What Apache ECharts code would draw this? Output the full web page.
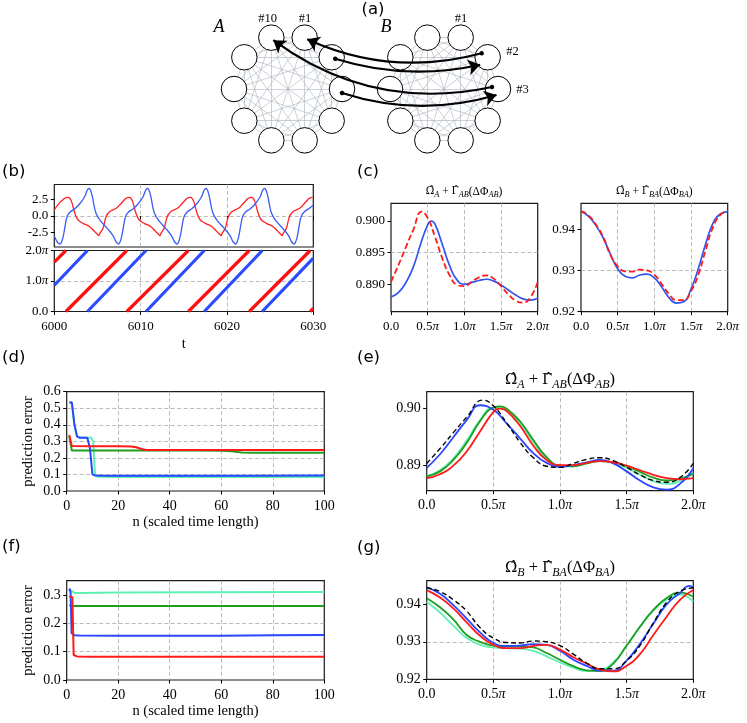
<!DOCTYPE html>
<html><head><meta charset="utf-8">
<script src="https://cdn.jsdelivr.net/npm/echarts@6/dist/echarts.min.js"></script>
<style>html,body{margin:0;padding:0;background:#fff}#c{width:747px;height:723px}</style>
</head><body><div id="c"></div>
<script>
// ================= DATA =================
// (a) network schematic: two rings of 10 oscillators, all-to-all inside each ring
const ringNodes = [1,2,3,4,5,6,7,8,9,10];
const ringCenters = {A: [288, 89], B: [444, 89]};
const ringRadius = 54;
// inter-ring couplings: [fromRing, fromNode, toRing, toNode, startOffset, endOffset, curveness]
const couplings = [
  ['B', 2, 'A', 1,  [-6, -4], [2.5, 1.5], 0.18],
  ['A', 2, 'B', 2,  [3.5, 1.5], [-7.5, 7.5], -0.134],
  ['B', 3, 'A', 10, [-6, -2], [2, 2.5], 0.225],
  ['A', 3, 'B', 3,  [0, 4], [-1.5, 6], -0.153]
];

// (b) time series (t, value) and phases (t, phase in units of pi)
const redSignal = [[6000.0,0.9],[6000.55,1.9],[6001.2,2.65],[6001.4,2.77],[6001.6,2.8],[6001.8,2.65],[6002.0,2.15],[6002.38,0.4],[6002.76,-0.6],[6003.34,-1.1],[6004.1,-1.6],[6004.68,-2.35],[6004.99,-2.75],[6005.14,-2.95],[6005.28,-2.6],[6005.64,-1.85],[6006.0,-0.1],[6006.4,0.65],[6007.18,1.15],[6007.75,1.9],[6008.3,2.65],[6008.48,2.77],[6008.68,2.8],[6008.88,2.65],[6009.08,2.15],[6009.46,0.4],[6009.84,-0.6],[6010.42,-1.1],[6011.18,-1.6],[6011.76,-2.35],[6012.07,-2.75],[6012.22,-2.95],[6012.36,-2.6],[6012.72,-1.85],[6013.08,-0.1],[6013.48,0.65],[6014.26,1.15],[6014.83,1.9],[6015.38,2.65],[6015.56,2.77],[6015.76,2.8],[6015.96,2.65],[6016.16,2.15],[6016.54,0.4],[6016.92,-0.6],[6017.5,-1.1],[6018.26,-1.6],[6018.84,-2.35],[6019.15,-2.75],[6019.3,-2.95],[6019.44,-2.6],[6019.8,-1.85],[6020.16,-0.1],[6020.56,0.65],[6021.34,1.15],[6021.91,1.9],[6022.46,2.65],[6022.64,2.77],[6022.84,2.8],[6023.04,2.65],[6023.24,2.15],[6023.62,0.4],[6024.0,-0.6],[6024.58,-1.1],[6025.34,-1.6],[6025.92,-2.35],[6026.23,-2.75],[6026.38,-2.95],[6026.52,-2.6],[6026.88,-1.85],[6027.24,-0.1],[6027.64,0.65],[6028.42,1.15],[6028.99,1.9],[6029.54,2.65],[6029.72,2.77],[6029.92,2.8],[6030.0,2.78]];
const blueSignal = [[6000.0,-3.0],[6000.3,-3.8],[6000.45,-4.05],[6000.65,-4.2],[6000.81,-4.0],[6001.03,-3.1],[6001.28,-1.3],[6001.48,-0.1],[6001.83,0.6],[6002.38,1.1],[6002.93,1.8],[6003.48,2.8],[6003.81,3.85],[6004.03,4.15],[6004.2,3.85],[6004.41,2.9],[6004.83,0.4],[6005.43,-0.85],[6006.13,-1.85],[6006.78,-2.9],[6007.13,-3.8],[6007.28,-4.05],[6007.42,-4.2],[6007.58,-4.0],[6007.8,-3.1],[6008.05,-1.3],[6008.25,-0.1],[6008.6,0.6],[6009.15,1.1],[6009.7,1.8],[6010.25,2.8],[6010.58,3.85],[6010.8,4.15],[6010.97,3.85],[6011.18,2.9],[6011.6,0.4],[6012.2,-0.85],[6012.9,-1.85],[6013.55,-2.9],[6013.9,-3.8],[6014.05,-4.05],[6014.2,-4.2],[6014.36,-4.0],[6014.58,-3.1],[6014.83,-1.3],[6015.03,-0.1],[6015.38,0.6],[6015.93,1.1],[6016.48,1.8],[6017.03,2.8],[6017.36,3.85],[6017.58,4.15],[6017.75,3.85],[6017.96,2.9],[6018.38,0.4],[6018.98,-0.85],[6019.68,-1.85],[6020.33,-2.9],[6020.68,-3.8],[6020.83,-4.05],[6020.98,-4.2],[6021.14,-4.0],[6021.36,-3.1],[6021.61,-1.3],[6021.81,-0.1],[6022.16,0.6],[6022.71,1.1],[6023.26,1.8],[6023.81,2.8],[6024.14,3.85],[6024.36,4.15],[6024.53,3.85],[6024.74,2.9],[6025.16,0.4],[6025.76,-0.85],[6026.46,-1.85],[6027.11,-2.9],[6027.46,-3.8],[6027.61,-4.05],[6027.76,-4.2],[6027.92,-4.0],[6028.14,-3.1],[6028.39,-1.3],[6028.59,-0.1],[6028.94,0.6],[6029.49,1.1],[6030.0,1.6]];
const redPhase = [[6000,1.62],[6001.34,2],[6001.34,null],[6001.34,0],[6008.4,2],[6008.4,null],[6008.4,0],[6015.53,2],[6015.53,null],[6015.53,0],[6022.58,2],[6022.58,null],[6022.58,0],[6029.64,2],[6029.64,null],[6029.64,0],[6030,0.1]];
const bluePhase = [[6000,0.86],[6003.84,2],[6003.84,null],[6003.84,0],[6010.62,2],[6010.62,null],[6010.62,0],[6017.37,2],[6017.37,null],[6017.37,0],[6024.09,2],[6024.09,null],[6024.09,0],[6030,1.75]];
const signalTicks = [-2.5, 0, 2.5];
const phaseTicks = [0, 1, 2];

// (c) coupling functions (x in units of pi)
const trueA = [[0,0.8904],[0.1,0.8930],[0.2,0.8958],[0.3,0.8985],[0.42,0.9015],[0.5,0.9005],[0.6,0.8975],[0.7,0.8941],[0.8,0.8914],[0.9,0.8899],[1.0,0.8897],[1.1,0.8904],[1.2,0.8911],[1.3,0.8914],[1.4,0.8909],[1.5,0.8897],[1.6,0.8884],[1.7,0.8874],[1.8,0.8871],[1.9,0.8879],[2.0,0.8904]];
const estA = [[0,0.8880],[0.1,0.8887],[0.2,0.8902],[0.3,0.8926],[0.4,0.8962],[0.5,0.8994],[0.55,0.9000],[0.6,0.8995],[0.7,0.8963],[0.8,0.8929],[0.9,0.8907],[1.0,0.8900],[1.1,0.8903],[1.2,0.8906],[1.3,0.8908],[1.4,0.8905],[1.5,0.8899],[1.6,0.8891],[1.7,0.8883],[1.8,0.8877],[1.9,0.8875],[2.0,0.8878]];
const trueB = [[0,0.9444],[0.1,0.9434],[0.2,0.9412],[0.3,0.9382],[0.4,0.9338],[0.5,0.9310],[0.6,0.9298],[0.7,0.9297],[0.8,0.9302],[0.9,0.9300],[1.0,0.9290],[1.1,0.9267],[1.2,0.9243],[1.3,0.9228],[1.4,0.9228],[1.5,0.9250],[1.6,0.9290],[1.7,0.9350],[1.8,0.9405],[1.9,0.9435],[2.0,0.9444]];
const estB = [[0,0.9443],[0.1,0.9432],[0.2,0.9410],[0.3,0.9380],[0.4,0.9340],[0.5,0.9304],[0.6,0.9286],[0.7,0.9282],[0.8,0.9289],[0.9,0.9291],[1.0,0.9282],[1.1,0.9260],[1.2,0.9234],[1.3,0.9221],[1.4,0.9224],[1.5,0.9255],[1.6,0.9305],[1.7,0.9365],[1.8,0.9415],[1.9,0.9437],[2.0,0.9443]];

// (d) prediction error vs n, network A
const dBlue  = [[1,0.534],[2,0.534],[3,0.40],[4,0.33],[5,0.322],[8,0.322],[9,0.26],[10,0.10],[11,0.093],[15,0.092],[40,0.092],[70,0.092],[100,0.093]];
const dCyan  = [[1,0.534],[2,0.534],[3,0.40],[4,0.33],[5,0.323],[9.5,0.322],[10.3,0.30],[11,0.10],[12,0.086],[20,0.085],[60,0.085],[100,0.085]];
const dGreen = [[1,0.33],[2,0.244],[10,0.244],[30,0.244],[50,0.244],[60,0.243],[64,0.240],[68,0.233],[72,0.231],[80,0.231],[100,0.231]];
const dRed   = [[1,0.338],[2,0.272],[10,0.270],[20,0.270],[25,0.269],[27,0.264],[29,0.254],[31,0.248],[40,0.247],[60,0.247],[80,0.247],[100,0.247]];
// (e) estimated coupling function A
const eBlue  = [[0,0.8896],[0.1,0.8920],[0.2,0.8950],[0.3,0.8980],[0.4,0.9006],[0.5,0.8998],[0.6,0.8974],[0.7,0.8948],[0.8,0.8922],[0.9,0.8905],[1.0,0.8898],[1.1,0.8901],[1.2,0.8906],[1.3,0.8910],[1.4,0.8904],[1.5,0.8890],[1.6,0.8874],[1.7,0.8862],[1.8,0.8858],[1.9,0.8868],[2.0,0.8896]];
const eCyan  = [[0,0.8882],[0.1,0.8892],[0.2,0.8913],[0.3,0.8944],[0.4,0.8980],[0.5,0.9002],[0.6,0.8998],[0.7,0.8974],[0.8,0.8941],[0.9,0.8912],[1.0,0.8899],[1.1,0.8899],[1.2,0.8904],[1.3,0.8908],[1.4,0.8905],[1.5,0.8896],[1.6,0.8884],[1.7,0.8873],[1.8,0.8868],[1.9,0.8873],[2.0,0.8887]];
const eGreen = [[0,0.8881],[0.1,0.8890],[0.2,0.8910],[0.3,0.8940],[0.4,0.8978],[0.5,0.9002],[0.55,0.9004],[0.6,0.9000],[0.7,0.8978],[0.8,0.8945],[0.9,0.8915],[1.0,0.8900],[1.1,0.8899],[1.2,0.8904],[1.3,0.8908],[1.4,0.8906],[1.5,0.8899],[1.6,0.8889],[1.7,0.8879],[1.8,0.8874],[1.9,0.8877],[2.0,0.8886]];
const eRed   = [[0,0.8878],[0.1,0.8885],[0.2,0.8900],[0.3,0.8925],[0.4,0.8960],[0.5,0.8994],[0.55,0.9000],[0.6,0.8996],[0.7,0.8970],[0.8,0.8935],[0.9,0.8910],[1.0,0.8901],[1.1,0.8901],[1.2,0.8905],[1.3,0.8908],[1.4,0.8906],[1.5,0.8900],[1.6,0.8892],[1.7,0.8884],[1.8,0.8878],[1.9,0.8876],[2.0,0.8878]];
// (f) prediction error vs n, network B
const fCyan  = [[1,0.322],[2,0.313],[3,0.307],[5,0.307],[20,0.308],[50,0.309],[100,0.310]];
const fGreen = [[1,0.264],[2,0.261],[50,0.261],[100,0.261]];
const fBlue  = [[1,0.322],[1.5,0.31],[1.9,0.165],[3,0.158],[5,0.157],[20,0.156],[60,0.156],[80,0.158],[100,0.159]];
const fRed   = [[1,0.294],[2.2,0.292],[2.7,0.088],[4,0.083],[10,0.082],[50,0.082],[100,0.082]];
// (g) estimated coupling function B
const gBlue  = [[0,0.9445],[0.1,0.9428],[0.2,0.9398],[0.3,0.9362],[0.4,0.9325],[0.5,0.9297],[0.6,0.9289],[0.7,0.9290],[0.8,0.9294],[0.9,0.9292],[1.0,0.9276],[1.1,0.9252],[1.2,0.9236],[1.3,0.9223],[1.4,0.9223],[1.5,0.9250],[1.6,0.9295],[1.7,0.9348],[1.8,0.9400],[1.9,0.9430],[1.97,0.9449],[2.0,0.9445]];
const gCyan  = [[0,0.9407],[0.1,0.9378],[0.2,0.9343],[0.3,0.9310],[0.4,0.9292],[0.5,0.9285],[0.6,0.9283],[0.7,0.9282],[0.8,0.9276],[0.9,0.9261],[1.0,0.9245],[1.1,0.9231],[1.2,0.9222],[1.3,0.9225],[1.4,0.9245],[1.5,0.9290],[1.6,0.9340],[1.7,0.9383],[1.8,0.9412],[1.9,0.9426],[2.0,0.9407]];
const gGreen = [[0,0.9416],[0.1,0.9392],[0.2,0.9360],[0.3,0.9318],[0.4,0.9300],[0.5,0.9290],[0.6,0.9288],[0.7,0.9288],[0.8,0.9285],[0.9,0.9270],[1.0,0.9252],[1.1,0.9235],[1.2,0.9224],[1.3,0.9222],[1.4,0.9242],[1.5,0.9290],[1.6,0.9340],[1.7,0.9385],[1.8,0.9417],[1.9,0.9431],[2.0,0.9420]];
const gRed   = [[0,0.9438],[0.1,0.9418],[0.2,0.9389],[0.3,0.9352],[0.4,0.9316],[0.5,0.9292],[0.6,0.9283],[0.7,0.9283],[0.8,0.9289],[0.9,0.9292],[1.0,0.9279],[1.1,0.9259],[1.2,0.9242],[1.3,0.9226],[1.4,0.9221],[1.5,0.9236],[1.6,0.9267],[1.7,0.9318],[1.8,0.9367],[1.9,0.9412],[2.0,0.9438]];
const errTicksD = [0, 0.1, 0.2, 0.3, 0.4, 0.5, 0.6];
const errTicksF = [0, 0.1, 0.2, 0.3];
const ticksA = [0.890, 0.895, 0.900];
const ticksB = [0.92, 0.93, 0.94];
const ticksE = [0.89, 0.90];

// ================= STYLE / LAYOUT =================
const SERIF = 'Liberation Serif';
const C_RED = '#ff1a1a', C_BLUE = '#2a46ff', C_CYAN = '#5ef0b2', C_GREEN = '#1f9e1f';
const chart = echarts.init(document.getElementById('c'), null, {renderer: 'canvas'});

const grids = [
  {left: 0, top: 0, width: 747, height: 160},                        // 0 (a)
  {left: 54.3, top: 184.5, width: 259, height: 62.5},                // 1 (b) top
  {left: 54.3, top: 250.5, width: 259, height: 61},                  // 2 (b) bottom
  {left: 391, top: 203.3, width: 146.7, height: 108.4},              // 3 (c) left
  {left: 581, top: 203.3, width: 146.7, height: 108.4},              // 4 (c) right
  {left: 66.7, top: 391.7, width: 257.6, height: 99.3},              // 5 (d)
  {left: 426.7, top: 391.7, width: 266.6, height: 99},               // 6 (e)
  {left: 66.7, top: 580.7, width: 257.6, height: 99.3},              // 7 (f)
  {left: 426.7, top: 580.7, width: 266.6, height: 98.6}              // 8 (g)
].map((g, i) => Object.assign({show: i !== 0, borderColor: '#1a1a1a', borderWidth: 1.2, backgroundColor: 'transparent', containLabel: false}, g));

const split = {show: true, showMinLine: false, showMaxLine: false, lineStyle: {color: '#b3b3b3', type: [4, 2.5], width: 0.9}};
function piFmt(v) { return v === 0 ? '0.0' : v.toFixed(1) + '{i|π}'; }
function fx(d) { return v => (d == null ? String(v) : v.toFixed(d)); }
function valAxis(gi, o) {
  const fs = o.fs || 14;
  const ax = {
    gridIndex: gi, type: 'value', min: o.min, max: o.max, inverse: !!o.inverse,
    axisLine: {show: false},
    axisTick: {show: o.tick !== false, length: 3.5, lineStyle: {color: '#000', width: 1}},
    axisLabel: {show: o.label !== false, color: '#000', fontFamily: SERIF, fontSize: fs, margin: o.margin || 6,
      formatter: o.fmt, rich: {i: {fontStyle: 'italic', fontFamily: SERIF, fontSize: fs, color: '#000'}}},
    splitLine: split
  };
  if (o.interval != null) ax.interval = o.interval;
  if (o.ticks) { ax.axisLabel.customValues = o.ticks; ax.axisTick.customValues = o.ticks; }
  if (o.name) {
    ax.name = o.name; ax.nameLocation = 'middle'; ax.nameGap = o.nameGap;
    ax.nameTextStyle = {fontFamily: SERIF, fontSize: 14.5, color: '#000'};
  }
  if (o.hidden) { ax.show = false; }
  return ax;
}

const xAxes = [
  valAxis(0, {min: 0, max: 747, hidden: true}),
  valAxis(1, {min: 6000, max: 6030, interval: 10, label: false}),
  valAxis(2, {min: 6000, max: 6030, interval: 10, fs: 13, margin: 9, fmt: fx(), name: 't', nameGap: 25}),
  valAxis(3, {min: 0, max: 2, interval: 0.5, fs: 13, margin: 8, fmt: piFmt}),
  valAxis(4, {min: 0, max: 2, interval: 0.5, fs: 13, margin: 8, fmt: piFmt}),
  valAxis(5, {min: 0, max: 100, interval: 20, margin: 8, fmt: fx(), name: 'n (scaled time length)', nameGap: 24}),
  valAxis(6, {min: 0, max: 2, interval: 0.5, margin: 8, fmt: piFmt}),
  valAxis(7, {min: 0, max: 100, interval: 20, margin: 8, fmt: fx(), name: 'n (scaled time length)', nameGap: 24}),
  valAxis(8, {min: 0, max: 2, interval: 0.5, margin: 8, fmt: piFmt})
];
const yAxes = [
  valAxis(0, {min: 0, max: 160, inverse: true, hidden: true}),
  valAxis(1, {min: -4.65, max: 4.72, ticks: signalTicks, fs: 13, fmt: fx(1)}),
  valAxis(2, {min: 0, max: 2, ticks: phaseTicks, fs: 13, fmt: piFmt}),
  valAxis(3, {min: 0.88567, max: 0.9028, ticks: ticksA, fs: 13, fmt: fx(3)}),
  valAxis(4, {min: 0.92, max: 0.9463, ticks: ticksB, fs: 13, fmt: fx(2)}),
  valAxis(5, {min: 0, max: 0.6, ticks: errTicksD, fmt: fx(1), name: 'prediction error', nameGap: 31}),
  valAxis(6, {min: 0.88561, max: 0.90298, ticks: ticksE, fmt: fx(2)}),
  valAxis(7, {min: 0, max: 0.35, ticks: errTicksF, fmt: fx(1), name: 'prediction error', nameGap: 31}),
  valAxis(8, {min: 0.92, max: 0.9463, ticks: ticksB, fmt: fx(2)})
];

// ---- (a) network geometry from ring layout ----
function nodePos(ring, k) {
  const a = (18 + 36 * (k - 1)) * Math.PI / 180;
  const c = ringCenters[ring];
  return [c[0] + ringRadius * Math.sin(a), c[1] - ringRadius * Math.cos(a)];
}
const nodeData = [], edgeData = [];
['A', 'B'].forEach(r => {
  ringNodes.forEach(k => nodeData.push({name: r + k, value: nodePos(r, k)}));
  ringNodes.forEach(i => ringNodes.forEach(j => { if (j > i) edgeData.push({coords: [nodePos(r, i), nodePos(r, j)]}); }));
});
const arrowData = couplings.map(([fr, fn, tr, tn, so, eo, cv]) => {
  const p = nodePos(fr, fn), q = nodePos(tr, tn);
  return {coords: [[p[0] + so[0], p[1] + so[1]], [q[0] + eo[0], q[1] + eo[1]]], lineStyle: {curveness: cv}};
});

function line(gi, data, color, o) {
  o = o || {};
  return {type: 'line', xAxisIndex: gi, yAxisIndex: gi, data: data, showSymbol: false, symbol: 'none',
    smooth: o.smooth != null ? o.smooth : false, connectNulls: false, clip: true, z: o.z || 2,
    lineStyle: {color: color, width: o.width || 2, type: o.type || 'solid', cap: 'butt'}, animation: false, silent: true};
}

const series = [
  {type: 'lines', coordinateSystem: 'cartesian2d', xAxisIndex: 0, yAxisIndex: 0, z: 1, silent: true,
    data: edgeData, lineStyle: {color: '#a8b2bc', width: 0.6, opacity: 1}, animation: false},
  {type: 'scatter', xAxisIndex: 0, yAxisIndex: 0, z: 2, silent: true, symbol: 'circle', symbolSize: 25.5,
    data: nodeData, itemStyle: {color: '#fff', borderColor: '#000', borderWidth: 1, opacity: 1}, animation: false},
  {type: 'lines', coordinateSystem: 'cartesian2d', xAxisIndex: 0, yAxisIndex: 0, z: 3, silent: true,
    data: arrowData, symbol: ['circle', 'arrow'], symbolSize: [4.5, 12],
    lineStyle: {color: '#000', width: 2.2, opacity: 1}, animation: false},
  // (b)
  line(1, redSignal, '#ff2020', {width: 1.3, smooth: 0.4}),
  line(1, blueSignal, '#3a5cf5', {width: 1.3, smooth: 0.4}),
  line(2, redPhase, '#ff1010', {width: 3.2}),
  line(2, bluePhase, '#2a4bff', {width: 3.2}),
  // (c)
  line(3, estA, '#3355ee', {width: 1.7, smooth: 0.5}),
  line(3, trueA, '#ff1a1a', {width: 1.8, smooth: 0.5, type: [6, 3]}),
  line(4, estB, '#3355ee', {width: 1.7, smooth: 0.5}),
  line(4, trueB, '#ff1a1a', {width: 1.8, smooth: 0.5, type: [6, 3]}),
  // (d)
  line(5, dCyan, C_CYAN, {width: 2}),
  line(5, dGreen, C_GREEN, {width: 2}),
  line(5, dBlue, C_BLUE, {width: 2}),
  line(5, dRed, C_RED, {width: 2}),
  // (e)
  line(6, eCyan, C_CYAN, {width: 1.8, smooth: 0.5}),
  line(6, eGreen, C_GREEN, {width: 1.8, smooth: 0.5}),
  line(6, eBlue, C_BLUE, {width: 1.8, smooth: 0.5}),
  line(6, eRed, C_RED, {width: 1.8, smooth: 0.5}),
  line(6, trueA, '#000', {width: 1.4, smooth: 0.5, type: [5, 3], z: 3}),
  // (f)
  line(7, fCyan, C_CYAN, {width: 2}),
  line(7, fGreen, C_GREEN, {width: 2}),
  line(7, fBlue, C_BLUE, {width: 2}),
  line(7, fRed, C_RED, {width: 2}),
  // (g)
  line(8, gCyan, C_CYAN, {width: 1.8, smooth: 0.5}),
  line(8, gGreen, C_GREEN, {width: 1.8, smooth: 0.5}),
  line(8, gBlue, C_BLUE, {width: 1.8, smooth: 0.5}),
  line(8, gRed, C_RED, {width: 1.8, smooth: 0.5}),
  line(8, trueB, '#000', {width: 1.4, smooth: 0.5, type: [5, 3], z: 3})
];

// ---- texts ----
function txt(x, y, text, font, align) {
  return {type: 'text', x: x, y: y, silent: true, z: 10,
    style: {text: text, font: font, fill: '#000', align: align || 'center', verticalAlign: 'middle'}};
}
function mathTitle(x, y, s1, s2, fs) {
  const sub = {fontFamily: SERIF, fontStyle: 'italic', fontSize: fs * 0.72, padding: [fs * 0.6, 0, 0, 0], fill: '#000'};
  const n = {fontFamily: SERIF, fontSize: fs, fill: '#000'};
  const h = {fontFamily: 'DejaVu Serif', fontSize: fs * 0.9, fill: '#000'};
  return {type: 'text', x: x, y: y, silent: true, z: 10, style: {
    text: '{h|Ω\u0302}{s|' + s1 + '}{n| + }{h|Γ\u0302}{s|' + s2 + '}{n|(ΔΦ}{s|' + s2 + '}{n|)}',
    rich: {n: n, s: sub, h: h}, align: 'center', verticalAlign: 'middle', fill: '#000'}};
}
const LET = '16.5px "DejaVu Sans"';
const graphics = [
  txt(373, 10, '(a)', LET),
  txt(2, 172, '(b)', LET, 'left'),
  txt(357, 172, '(c)', LET, 'left'),
  txt(2, 358, '(d)', LET, 'left'),
  txt(357, 358, '(e)', LET, 'left'),
  txt(2, 547, '(f)', LET, 'left'),
  txt(357, 548, '(g)', LET, 'left'),
  txt(219, 27.5, 'A', 'italic 18px "Liberation Serif"'),
  txt(386, 27.5, 'B', 'italic 18px "Liberation Serif"'),
  txt(267.5, 19, '#10', '12.5px "Liberation Serif"'),
  txt(305, 19, '#1', '12.5px "Liberation Serif"'),
  txt(461, 19, '#1', '12.5px "Liberation Serif"'),
  txt(512.5, 51.5, '#2', '12.5px "Liberation Serif"'),
  txt(522.5, 90, '#3', '12.5px "Liberation Serif"'),
  mathTitle(464, 191.5, 'A', 'AB', 11.5),
  mathTitle(654.3, 191.5, 'B', 'BA', 11.5),
  mathTitle(560, 380, 'A', 'AB', 16.5),
  mathTitle(560, 568, 'B', 'BA', 16.5)
];

chart.setOption({
  animation: false,
  backgroundColor: '#fff',
  textStyle: {fontFamily: SERIF},
  grid: grids,
  xAxis: xAxes,
  yAxis: yAxes,
  series: series,
  graphic: {elements: graphics}
});
</script></body></html>
